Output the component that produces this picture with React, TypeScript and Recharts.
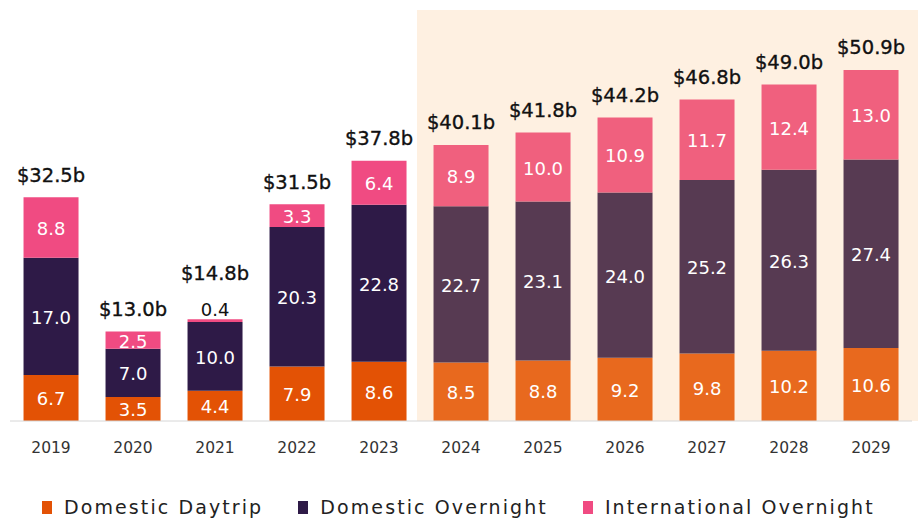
import React from 'react';
import { BarChart, Bar, XAxis, YAxis, Cell, LabelList, Legend, ReferenceArea } from 'recharts';

const years = ['2019', '2020', '2021', '2022', '2023', '2024', '2025', '2026', '2027', '2028', '2029'];
const domesticDaytrip = [6.7, 3.5, 4.4, 7.9, 8.6, 8.5, 8.8, 9.2, 9.8, 10.2, 10.6];
const domesticOvernight = [17.0, 7.0, 10.0, 20.3, 22.8, 22.7, 23.1, 24.0, 25.2, 26.3, 27.4];
const internationalOvernight = [8.8, 2.5, 0.4, 3.3, 6.4, 8.9, 10.0, 10.9, 11.7, 12.4, 13.0];
const totalLabels = ['$32.5b', '$13.0b', '$14.8b', '$31.5b', '$37.8b', '$40.1b', '$41.8b', '$44.2b', '$46.8b', '$49.0b', '$50.9b'];
const firstForecastYear = '2024';
const lastForecastYear = '2029';

const seriesNames = ['Domestic Daytrip', 'Domestic Overnight', 'International Overnight'];
const actualColors = ['#E35205', '#2E1A47', '#F04B82'];
const forecastColors = ['#E8691E', '#573A52', '#F0607E'];

const data = years.map((y, i) => ({
  year: y,
  daytrip: domesticDaytrip[i],
  overnight: domesticOvernight[i],
  international: internationalOvernight[i],
  total: totalLabels[i],
  forecast: Number(y) >= Number(firstForecastYear),
}));

const FONT = "'DejaVu Sans', sans-serif";

const InsideLabel = (props: any) => {
  const { x, y, width, height, value } = props;
  if (height < 12) return null;
  return (
    <text x={x + width / 2} y={y + height / 2 + 1} textAnchor="middle" dominantBaseline="central"
      fill="#ffffff" fontSize={18} fontFamily={FONT}>
      {Number(value).toFixed(1)}
    </text>
  );
};

const TopLabel = (props: any) => {
  const { x, y, width, height, value, index } = props;
  const cx = x + width / 2;
  const small = height < 12;
  return (
    <g>
      <text x={cx} y={small ? y - 10 : y + height / 2 + 1} textAnchor="middle" dominantBaseline="central"
        fill={small ? '#111' : '#fff'} fontSize={18} fontFamily={FONT}>
        {Number(value).toFixed(1)}
      </text>
      <text x={cx} y={small ? y - 46 : y - 22} textAnchor="middle" dominantBaseline="central" fill="#111"
        stroke="#111" strokeWidth={0.35} fontSize={19.5} fontFamily={FONT}>
        {totalLabels[index]}
      </text>
    </g>
  );
};

const ShadeShape = (p: any) => (
  <rect x={p.x - 3} y={p.y + 2} width={p.width + 9} height={p.height - 2} fill="#FEF0E1" />
);

const LegendContent = () => (
  <div style={{ display: 'flex', alignItems: 'center', paddingLeft: 42, paddingTop: 35, height: 57, boxSizing: 'border-box', fontFamily: FONT, fontSize: 19, lineHeight: '20px', letterSpacing: 2.1, color: '#222' }}>
    {seriesNames.map((n, i) => (
      <div key={n} style={{ display: 'flex', alignItems: 'center', marginRight: 35 }}>
        <span style={{ display: 'inline-block', width: 10, height: 13, background: actualColors[i], marginRight: 12 }} />
        <span>{n}</span>
      </div>
    ))}
  </div>
);

export default function App() {
  return (
    <div style={{ position: 'absolute', left: 0, top: 0, fontFamily: FONT }}>
      <BarChart width={920} height={518} data={data} margin={{ top: 8, right: 8, left: 10, bottom: 0 }} barCategoryGap="16.5%">
        <ReferenceArea x1={firstForecastYear} x2={lastForecastYear} y1={0} y2={60} shape={ShadeShape} ifOverflow="visible" />
        <XAxis dataKey="year" tickLine={false} axisLine={{ stroke: '#d6d6d6' }} height={40} tickMargin={15}
          tick={{ fill: '#333', fontSize: 15.5, fontFamily: FONT }} interval={0} />
        <YAxis hide domain={[0, 60]} />
        <Legend verticalAlign="bottom" content={LegendContent} wrapperStyle={{ left: 0, width: 920 }} />
        <Bar dataKey="daytrip" stackId="a" isAnimationActive={false} name={seriesNames[0]}>
          {data.map((d) => <Cell key={d.year} fill={d.forecast ? forecastColors[0] : actualColors[0]} />)}
          <LabelList dataKey="daytrip" content={InsideLabel} />
        </Bar>
        <Bar dataKey="overnight" stackId="a" isAnimationActive={false} name={seriesNames[1]}>
          {data.map((d) => <Cell key={d.year} fill={d.forecast ? forecastColors[1] : actualColors[1]} />)}
          <LabelList dataKey="overnight" content={InsideLabel} />
        </Bar>
        <Bar dataKey="international" stackId="a" isAnimationActive={false} name={seriesNames[2]}>
          {data.map((d) => <Cell key={d.year} fill={d.forecast ? forecastColors[2] : actualColors[2]} />)}
          <LabelList dataKey="international" content={TopLabel} />
        </Bar>
      </BarChart>
    </div>
  );
}
